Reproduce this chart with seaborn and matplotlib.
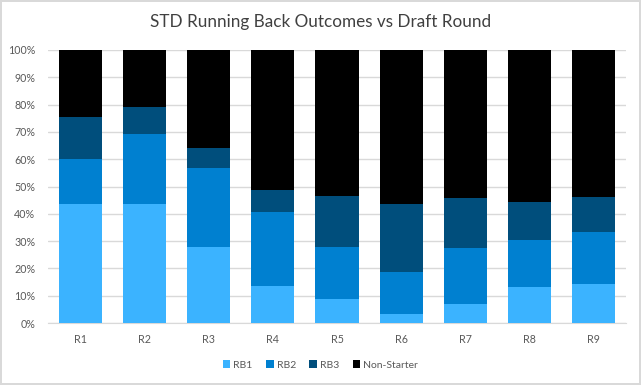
import numpy as np
import pandas as pd
import matplotlib
matplotlib.use("Agg")
import matplotlib.pyplot as plt
from matplotlib.patches import Patch
import seaborn as sns

rounds = ["R1", "R2", "R3", "R4", "R5", "R6", "R7", "R8", "R9"]
rb1 = [43.6, 43.6, 27.8, 13.6, 8.8, 3.3, 7.0, 13.2, 14.3]
rb2 = [16.5, 25.6, 29.0, 27.1, 19.0, 15.4, 20.5, 17.2, 19.0]
rb3 = [15.4, 9.9, 7.3, 8.0, 18.7, 24.9, 18.3, 13.9, 12.9]
non_starter = [24.5, 20.9, 35.9, 51.3, 53.5, 56.4, 54.2, 55.7, 53.8]

series = ["RB1", "RB2", "RB3", "Non-Starter"]
colors = ["#3BB3FF", "#0080D0", "#004E7C", "#000000"]

sns.set_style("white")
plt.rcParams["font.family"] = ["Lato", "DejaVu Sans"]

vals = np.array([rb1, rb2, rb3, non_starter])
cum = np.cumsum(vals, axis=0)

fig = plt.figure(figsize=(6.41, 3.85), dpi=100)
fig.patch.set_edgecolor("#D9D9D9")
fig.patch.set_linewidth(1.5)
ax = fig.add_axes([48 / 641, 62 / 385, 578 / 641, 273 / 385])

for i in range(len(series) - 1, -1, -1):
    df = pd.DataFrame({"Round": rounds, "Value": cum[i]})
    sns.barplot(data=df, x="Round", y="Value", color=colors[i], width=0.67,
                saturation=1, linewidth=0, edgecolor="none", ax=ax, zorder=3)

ax.set_ylim(0, 100)
ax.set_xlim(-0.5, len(rounds) - 0.5)
ax.set_yticks(np.arange(0, 101, 10))
ax.set_yticklabels([f"{t}%" for t in range(0, 101, 10)])
ax.yaxis.grid(True, color="#D9D9D9", linewidth=1, zorder=0)
ax.set_axisbelow(True)
for s in ["top", "right", "left"]:
    ax.spines[s].set_visible(False)
ax.spines["bottom"].set_color("#D9D9D9")
ax.tick_params(axis="both", length=0, labelsize=7.7, colors="#595959")
ax.tick_params(axis="y", pad=9)
ax.tick_params(axis="x", pad=8)
ax.set_xlabel("")
ax.set_ylabel("")

fig.text(0.5, 1 - 22 / 385, "STD Running Back Outcomes vs Draft Round",
         ha="center", va="center", fontsize=12.3, color="#404040")

handles = [Patch(facecolor=c, edgecolor="none", label=s) for s, c in zip(series, colors)]
fig.legend(handles=handles, loc="center", bbox_to_anchor=(0.5, 1 - 365 / 385), ncol=4,
           frameon=False, fontsize=7.5, handlelength=0.7, handleheight=0.7,
           handletextpad=0.3, columnspacing=1.3, labelcolor="#595959")

fig.savefig("out.png", dpi=100)
